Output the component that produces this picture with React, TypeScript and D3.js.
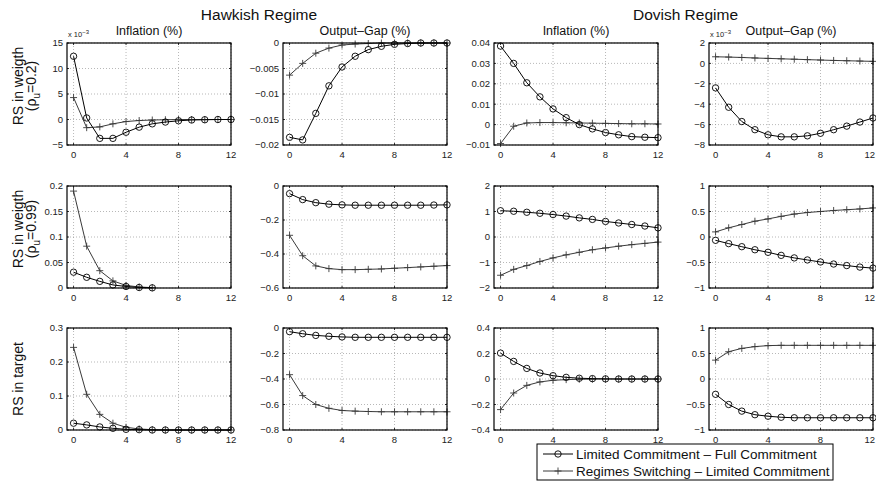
import * as d3 from "d3";

// horizon (quarters)
const horizon = [0, 1, 2, 3, 4, 5, 6, 7, 8, 9, 10, 11, 12];
const xTicks = [0, 4, 8, 12];

const regimeTitles = ["Hawkish Regime", "Dovish Regime"];
const colTitles = ["Inflation (%)", "Output\u2013Gap (%)", "Inflation (%)", "Output\u2013Gap (%)"];
const legendLabels = [
  "Limited Commitment \u2013 Full Commitment",
  "Regimes Switching \u2013 Limited Commitment",
];

// row 1: RS in weigth (rho_u = 0.2)   (first and last panel in units of 1e-3)
const hawkInfW02Lc = [12.4, 0.3, -3.7, -3.7, -2.5, -1.5, -0.85, -0.5, -0.25, -0.1, -0.05, 0, 0];
const hawkInfW02Rs = [4.3, -1.6, -1.45, -0.85, -0.4, -0.2, -0.1, -0.05, 0, 0, 0, 0, 0];
const hawkGapW02Lc = [-0.0185, -0.019, -0.0138, -0.0084, -0.0047, -0.0026, -0.0013, -0.00065, -0.00026, -0.0001, 0, 0, 0];
const hawkGapW02Rs = [-0.0063, -0.004, -0.002, -0.001, -0.0004, -0.0002, -0.0001, 0, 0, 0, 0, 0, 0];
const doveInfW02Lc = [0.0385, 0.03, 0.0205, 0.0136, 0.0077, 0.0034, 0, -0.0021, -0.0039, -0.005, -0.0059, -0.0062, -0.0064];
const doveInfW02Rs = [-0.0093, -0.0008, 0.0008, 0.001, 0.001, 0.0009, 0.0008, 0.0007, 0.0006, 0.0005, 0.0004, 0.0004, 0.0003];
const doveGapW02Lc = [-2.4, -4.3, -5.7, -6.5, -7.0, -7.2, -7.2, -7.1, -6.85, -6.5, -6.15, -5.75, -5.35];
const doveGapW02Rs = [0.65, 0.62, 0.58, 0.53, 0.49, 0.45, 0.41, 0.37, 0.33, 0.29, 0.26, 0.23, 0.2];

// row 2: RS in weigth (rho_u = 0.99)
const hawkInfW99Lc = [0.031, 0.021, 0.013, 0.006, 0.003, 0.001, 0.0003];
const hawkInfW99Rs = [0.19, 0.082, 0.034, 0.014, 0.005, 0.002, 0.0007];
const hawkGapW99Lc = [-0.045, -0.08, -0.098, -0.107, -0.111, -0.113, -0.113, -0.113, -0.113, -0.113, -0.113, -0.112, -0.111];
const hawkGapW99Rs = [-0.29, -0.41, -0.47, -0.486, -0.492, -0.492, -0.49, -0.488, -0.484, -0.48, -0.476, -0.472, -0.468];
const doveInfW99Lc = [1.03, 1.01, 0.97, 0.93, 0.88, 0.82, 0.75, 0.69, 0.61, 0.55, 0.49, 0.43, 0.36];
const doveInfW99Rs = [-1.5, -1.27, -1.12, -0.96, -0.82, -0.7, -0.6, -0.5, -0.43, -0.36, -0.3, -0.25, -0.2];
const doveGapW99Lc = [-0.065, -0.13, -0.19, -0.25, -0.3, -0.36, -0.41, -0.45, -0.49, -0.53, -0.56, -0.59, -0.61];
const doveGapW99Rs = [0.1, 0.18, 0.245, 0.31, 0.355, 0.405, 0.45, 0.48, 0.5, 0.52, 0.535, 0.55, 0.57];

// row 3: RS in target
const hawkInfTgLc = [0.02, 0.015, 0.009, 0.005, 0.002, 0.001, 0, 0, 0, 0, 0, 0, 0];
const hawkInfTgRs = [0.243, 0.105, 0.046, 0.02, 0.008, 0.003, 0.001, 0, 0, 0, 0, 0, 0];
const hawkGapTgLc = [-0.029, -0.045, -0.058, -0.065, -0.07, -0.073, -0.073, -0.073, -0.073, -0.073, -0.073, -0.073, -0.073];
const hawkGapTgRs = [-0.366, -0.53, -0.6, -0.63, -0.647, -0.652, -0.655, -0.657, -0.657, -0.657, -0.657, -0.657, -0.657];
const doveInfTgLc = [0.203, 0.138, 0.083, 0.047, 0.026, 0.013, 0.006, 0.003, 0.001, 0, 0, 0, 0];
const doveInfTgRs = [-0.24, -0.11, -0.05, -0.023, -0.01, -0.005, -0.002, -0.001, 0, 0, 0, 0, 0];
const doveGapTgLc = [-0.3, -0.5, -0.63, -0.7, -0.73, -0.75, -0.76, -0.76, -0.76, -0.76, -0.76, -0.76, -0.76];
const doveGapTgRs = [0.37, 0.535, 0.6, 0.635, 0.655, 0.66, 0.66, 0.66, 0.66, 0.66, 0.66, 0.66, 0.66];

// y axis per panel
const yTicksRows = [
  [
    [-5, 0, 5, 10, 15],
    [-0.02, -0.015, -0.01, -0.005, 0],
    [-0.01, 0, 0.01, 0.02, 0.03, 0.04],
    [-8, -6, -4, -2, 0, 2],
  ],
  [
    [0, 0.05, 0.1, 0.15, 0.2],
    [-0.6, -0.4, -0.2, 0],
    [-2, -1, 0, 1, 2],
    [-1, -0.5, 0, 0.5, 1],
  ],
  [
    [0, 0.1, 0.2, 0.3],
    [-0.8, -0.6, -0.4, -0.2, 0],
    [-0.4, -0.2, 0, 0.2, 0.4],
    [-1, -0.5, 0, 0.5, 1],
  ],
];

const seriesRows = [
  [
    [hawkInfW02Lc, hawkInfW02Rs],
    [hawkGapW02Lc, hawkGapW02Rs],
    [doveInfW02Lc, doveInfW02Rs],
    [doveGapW02Lc, doveGapW02Rs],
  ],
  [
    [hawkInfW99Lc, hawkInfW99Rs],
    [hawkGapW99Lc, hawkGapW99Rs],
    [doveInfW99Lc, doveInfW99Rs],
    [doveGapW99Lc, doveGapW99Rs],
  ],
  [
    [hawkInfTgLc, hawkInfTgRs],
    [hawkGapTgLc, hawkGapTgRs],
    [doveInfTgLc, doveInfTgRs],
    [doveGapTgLc, doveGapTgRs],
  ],
];

// panels shown "x 10^-3"
const scaledPanels = ["0-0", "0-3"];

const colLeft = [67, 283, 494, 709];
const rowTop = [43, 186, 328];
const PW = 164;
const PH = 102;
const W = 876;
const H = 483;
const FONT = "'Liberation Sans', Arial, Helvetica, sans-serif";
const RS_COLOR = "#3a3a3a";

const fmt = (v: number) => {
  const s = String(+v.toFixed(4));
  return s.replace("-", "\u2212");
};

type PanelProps = {
  left: number;
  top: number;
  yTicks: number[];
  lc: number[];
  rs: number[];
  scaled: boolean;
};

const Panel = ({ left, top, yTicks, lc, rs, scaled }: PanelProps) => {
  const x = d3.scaleLinear().domain([-0.5, 12]).range([left, left + PW]);
  const y = d3
    .scaleLinear()
    .domain([yTicks[0], yTicks[yTicks.length - 1]])
    .range([top + PH, top]);
  const line = d3
    .line<number>()
    .x((_, i) => x(horizon[i]))
    .y((d) => y(d));
  return (
    <g>
      {/* grid */}
      {xTicks.map((t) => (
        <line key={"gx" + t} x1={x(t)} x2={x(t)} y1={top} y2={top + PH} stroke="#888" strokeWidth={0.6} strokeDasharray="1,2" />
      ))}
      {yTicks.map((t) => (
        <line key={"gy" + t} x1={left} x2={left + PW} y1={y(t)} y2={y(t)} stroke="#888" strokeWidth={0.6} strokeDasharray="1,2" />
      ))}
      {/* ticks */}
      {xTicks.map((t) => {
        // keep the last label inside the page
        const tooFar = x(t) + 7 > W;
        return (
          <g key={"tx" + t}>
            <line x1={x(t)} x2={x(t)} y1={top + PH} y2={top + PH - 2} stroke="#000" strokeWidth={0.8} />
            <line x1={x(t)} x2={x(t)} y1={top} y2={top + 2} stroke="#000" strokeWidth={0.8} />
            <text
              x={tooFar ? W - 1 : x(t)}
              y={top + PH + 13}
              textAnchor={tooFar ? "end" : "middle"}
              fontSize={9.5}
              fontFamily={FONT}
              fill="#222"
            >
              {t}
            </text>
          </g>
        );
      })}
      {yTicks.map((t) => (
        <g key={"ty" + t}>
          <line x1={left} x2={left + 2} y1={y(t)} y2={y(t)} stroke="#000" strokeWidth={0.8} />
          <line x1={left + PW} x2={left + PW - 2} y1={y(t)} y2={y(t)} stroke="#000" strokeWidth={0.8} />
          <text x={left - 4} y={y(t) + 3.3} textAnchor="end" fontSize={9.5} fontFamily={FONT} fill="#222">
            {fmt(t)}
          </text>
        </g>
      ))}
      {scaled && (
        <text x={left + 1} y={top - 6} fontSize={7.5} fontFamily={FONT} fill="#222">
          x 10<tspan dy={-3} fontSize={6}>{"\u22123"}</tspan>
        </text>
      )}
      {/* series: regimes switching */}
      <path d={line(rs) ?? ""} fill="none" stroke={RS_COLOR} strokeWidth={1} />
      {rs.map((v, i) => (
        <g key={"p" + i} stroke={RS_COLOR} strokeWidth={0.9}>
          <line x1={x(horizon[i]) - 3.5} x2={x(horizon[i]) + 3.5} y1={y(v)} y2={y(v)} />
          <line x1={x(horizon[i])} x2={x(horizon[i])} y1={y(v) - 3.5} y2={y(v) + 3.5} />
        </g>
      ))}
      {/* series: limited commitment */}
      <path d={line(lc) ?? ""} fill="none" stroke="#000" strokeWidth={1} />
      {lc.map((v, i) => (
        <circle key={"c" + i} cx={x(horizon[i])} cy={y(v)} r={3.2} fill="none" stroke="#000" strokeWidth={0.9} />
      ))}
      {/* box */}
      <rect x={left} y={top} width={PW} height={PH} fill="none" stroke="#000" strokeWidth={1.2} />
    </g>
  );
};

const rowLabels = [
  ["RS in weigth", "0.2"],
  ["RS in weigth", "0.99"],
  ["RS in target", ""],
];

export default function App() {
  return (
    <svg width={W} height={H} style={{ position: "absolute", left: 0, top: 0, background: "#fff" }}>
      <rect width={W} height={H} fill="#fff" />
      {regimeTitles.map((t, i) => (
        <text
          key={t}
          x={(colLeft[i * 2] + colLeft[i * 2 + 1] + PW) / 2 + 2}
          y={20}
          textAnchor="middle"
          fontSize={15.5}
          fontFamily={FONT}
          fill="#111"
        >
          {t}
        </text>
      ))}
      {colTitles.map((t, i) => (
        <text key={i} x={colLeft[i] + PW / 2} y={35} textAnchor="middle" fontSize={12.5} fontFamily={FONT} fill="#111">
          {t}
        </text>
      ))}
      {rowLabels.map(([a, b], r) => {
        const cy = rowTop[r] + PH / 2 - (b ? 8 : 0);
        return (
          <g key={r} fontFamily={FONT} fill="#111" fontSize={14}>
            <text transform={`translate(23,${cy}) rotate(-90)`} textAnchor="middle">
              {a}
            </text>
            {b && (
              <text transform={`translate(36,${cy}) rotate(-90)`} textAnchor="middle">
                {"(\u03c1"}
                <tspan dy={4} fontSize={10}>u</tspan>
                <tspan dy={-4}>{"=" + b + ")"}</tspan>
              </text>
            )}
          </g>
        );
      })}
      {seriesRows.map((row, r) =>
        row.map(([lc, rs], c) => (
          <Panel
            key={r + "-" + c}
            left={colLeft[c]}
            top={rowTop[r]}
            yTicks={yTicksRows[r][c]}
            lc={lc}
            rs={rs}
            scaled={scaledPanels.includes(r + "-" + c)}
          />
        )),
      )}
      {/* legend */}
      <g fontFamily={FONT} fontSize={13.5} fill="#111">
        <rect x={537} y={444} width={296} height={36} fill="#fff" stroke="#000" strokeWidth={1} />
        <line x1={543} x2={573} y1={454} y2={454} stroke="#000" strokeWidth={1} />
        <circle cx={558} cy={454} r={3.2} fill="none" stroke="#000" strokeWidth={0.9} />
        <text x={576} y={459}>{legendLabels[0]}</text>
        <line x1={543} x2={573} y1={471} y2={471} stroke={RS_COLOR} strokeWidth={1} />
        <line x1={554.5} x2={561.5} y1={471} y2={471} stroke={RS_COLOR} strokeWidth={0.9} />
        <line x1={558} x2={558} y1={467.5} y2={474.5} stroke={RS_COLOR} strokeWidth={0.9} />
        <text x={576} y={476}>{legendLabels[1]}</text>
      </g>
    </svg>
  );
}
